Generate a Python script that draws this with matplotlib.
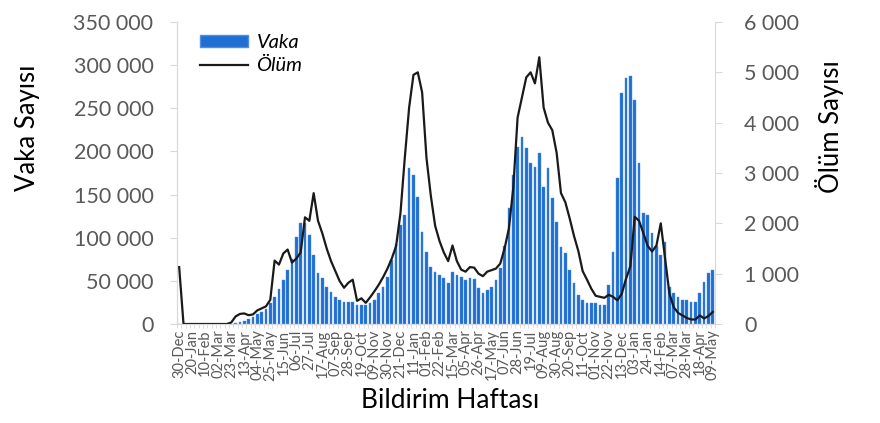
import matplotlib
matplotlib.use("Agg")
import matplotlib.pyplot as plt
from matplotlib.patches import Patch
from matplotlib.lines import Line2D
from matplotlib.ticker import FuncFormatter, FixedLocator

plt.rcParams['font.family'] = ['Lato', 'DejaVu Sans']

# haftalık veriler: 30-Dec-2019 .. 09-May-2022 (124 hafta)
tick_labels = ['30-Dec', '20-Jan', '10-Feb', '02-Mar', '23-Mar', '13-Apr', '04-May',
               '25-May', '15-Jun', '06-Jul', '27-Jul', '17-Aug', '07-Sep', '28-Sep',
               '19-Oct', '09-Nov', '30-Nov', '21-Dec', '11-Jan', '01-Feb', '22-Feb',
               '15-Mar', '05-Apr', '26-Apr', '17-May', '07-Jun', '28-Jun', '19-Jul',
               '09-Aug', '30-Aug', '20-Sep', '11-Oct', '01-Nov', '22-Nov', '13-Dec',
               '03-Jan', '24-Jan', '14-Feb', '07-Mar', '28-Mar', '18-Apr', '09-May']

vaka = [0] * 12 + [
    500, 1500, 2700, 3800, 5400, 8500, 11600, 14300, 17000, 24000,
    31000, 41000, 51000, 63000, 75000, 101000, 117000, 117000, 103000, 80000,
    59000, 53000, 43000, 37500, 31500, 28000, 26000, 26000, 26000, 22000,
    22000, 22500, 24000, 28000, 35500, 43000, 55000, 74000, 92500, 114700,
    126300, 180400, 172700, 147500, 107000, 83800, 66400, 60600, 56800, 53000,
    47200, 60600, 56800, 54800, 51000, 53000, 51800, 41400, 35600, 39400,
    43300, 51000, 64600, 90000, 134100, 172700, 205500, 216400, 203600, 186200,
    182300, 197800, 159100, 180400, 145700, 118600, 89600, 81900, 62600, 47200,
    33600, 27800, 24000, 24000, 24000, 22000, 22000, 45200, 83800, 168900,
    267400, 284800, 287400, 259600, 186200, 128300, 126300, 105100, 90000, 80000,
    95400, 43300, 35600, 31600, 27800, 27800, 25800, 25800, 35600, 49000,
    58800, 62600]

olum = [1130] + [0] * 11 + [
    30, 150, 200, 210, 175, 190, 270, 310, 350, 480,
    1260, 1180, 1400, 1480, 1220, 1300, 1420, 2120, 2050, 2600,
    2050, 1800, 1500, 1250, 1050, 850, 720, 820, 880, 460,
    510, 420, 530, 650, 780, 930, 1100, 1300, 1550, 2200,
    3300, 4300, 4950, 5000, 4600, 3300, 2550, 1950, 1650, 1420,
    1250, 1560, 1250, 1080, 1040, 1130, 1120, 1000, 950, 1040,
    1070, 1100, 1200, 1500, 1900, 2700, 4100, 4500, 4900, 5000,
    4780, 5300, 4300, 4000, 3850, 3400, 2600, 2420, 2100, 1750,
    1450, 1050, 880, 700, 560, 540, 520, 580, 540, 470,
    600, 900, 1150, 2130, 2050, 1800, 1550, 1440, 1560, 2000,
    1300, 600, 330, 220, 170, 120, 90, 90, 170, 110,
    160, 240]

grey = '#595959'
axis_grey = '#d9d9d9'

def space_thousands(v, pos):
    return f"{int(v):,}".replace(",", " ")

fig = plt.figure(figsize=(8.8, 4.23), dpi=100)
ax = fig.add_axes([177 / 880, 99 / 423, 538 / 880, 302 / 423])
ax2 = ax.twinx()

x = list(range(len(vaka)))
ax.bar(x, vaka, width=0.62, color='#1f6fd3', edgecolor='#4d8fe0', linewidth=0.3)
ax2.plot(x, olum, color='#1a1a1a', linewidth=1.6)

ax.set_xlim(-0.5, len(vaka) - 0.5)
ax.set_ylim(0, 350000)
ax2.set_ylim(0, 6000)
ax.set_yticks(range(0, 350001, 50000))
ax2.set_yticks(range(0, 6001, 1000))
ax.yaxis.set_major_formatter(FuncFormatter(space_thousands))
ax2.yaxis.set_major_formatter(FuncFormatter(space_thousands))

ax.set_xticks(range(0, len(vaka), 3))
ax.set_xticklabels(tick_labels, rotation=90, fontsize=10.5, color=grey)
ax.xaxis.set_minor_locator(FixedLocator([i - 0.5 for i in range(len(vaka) + 1)]))
ax.tick_params(axis='x', which='major', length=0, pad=4)
ax.tick_params(axis='x', which='minor', length=3, color=axis_grey)
ax.tick_params(axis='y', length=5, color=axis_grey, labelsize=15.5, labelcolor=grey, pad=12)
ax2.tick_params(axis='y', length=5, color=axis_grey, labelsize=15.5, labelcolor=grey, pad=16)

for a in (ax, ax2):
    a.spines['top'].set_visible(False)
    for s in ('left', 'right', 'bottom'):
        a.spines[s].set_color(axis_grey)
ax.spines['right'].set_visible(False)

fig.text(28 / 880, 1 - 128 / 423, 'Vaka Sayısı', rotation=90, ha='center', va='center', fontsize=18.5)
fig.text(829 / 880, 1 - 127 / 423, 'Ölüm Sayısı', rotation=90, ha='center', va='center', fontsize=18.5)
fig.text(450 / 880, 1 - 400 / 423, 'Bildirim Haftası', ha='center', va='center', fontsize=19)

handles = [Patch(facecolor='#1f6fd3', edgecolor='#4d8fe0'),
           Line2D([0], [0], color='#1a1a1a', linewidth=1.6)]
ax2.legend(handles, ['Vaka', 'Ölüm'], loc='upper left', bbox_to_anchor=(192 / 880, 1 - 26 / 423),
           bbox_transform=fig.transFigure, frameon=False, prop={'style': 'italic', 'size': 14.5},
           handlelength=2.4, handleheight=0.6, handletextpad=0.4, labelspacing=0.3, borderaxespad=0)

fig.savefig('out.png', dpi=100)
